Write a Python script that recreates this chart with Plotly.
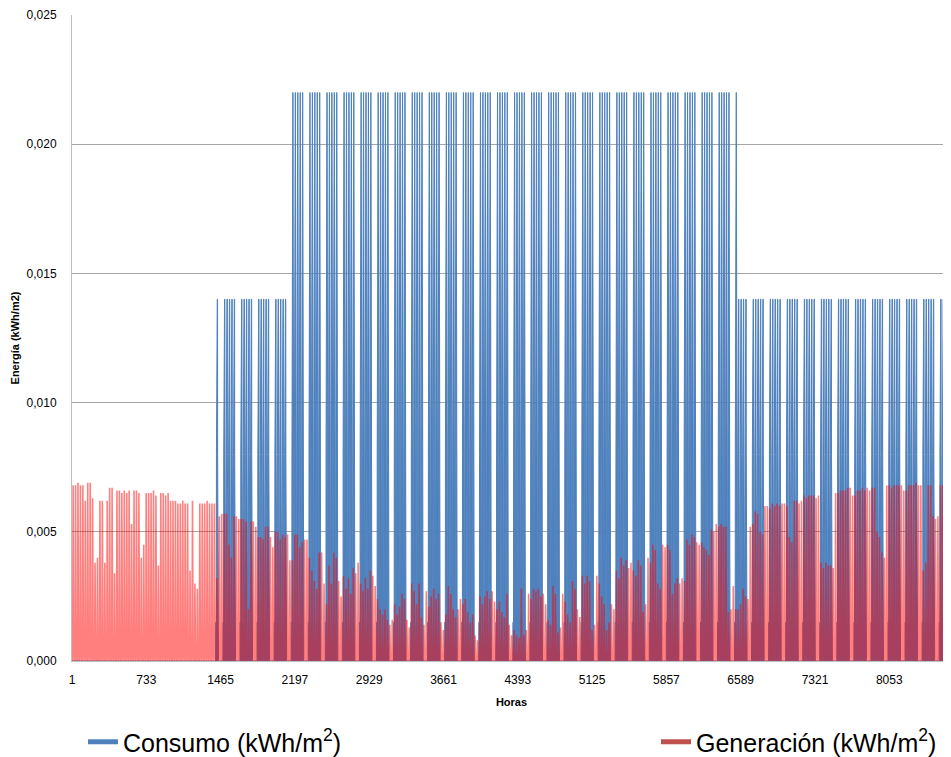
import plotly.graph_objects as go

# ---------------- data (year 2013, hourly, 8760 h) ----------------
DAYS_IN_MONTH = [31, 28, 31, 30, 31, 30, 31, 31, 30, 31, 30, 31]
FIRST_WEEKDAY = 1  # 2013-01-01 was a Tuesday (0 = Monday)

# Daily generation peak per month, in 1e-4 kWh/m2
GEN_JAN = [68, 68, 69, 68, 68, 62, 69, 69, 63, 38, 40, 62, 62, 38, 62, 67, 67, 34, 66, 66, 65, 66, 65, 66, 53, 66, 66, 65, 40, 45, 65]
GEN_FEB = [65, 65, 66, 64, 37, 65, 65, 64, 65, 62, 62, 62, 61, 61, 62, 61, 61, 35, 62, 30, 28, 61, 61, 61, 62, 61, 61, 61]
GEN_MAR = [32, 56, 57, 57, 57, 45, 40, 56, 56, 55, 55, 55, 54, 20, 54, 54, 52, 48, 48, 47, 52, 52, 48, 44, 50, 50, 47, 49, 48, 49, 39]
GEN_APR = [39, 49, 49, 44, 46, 47, 47, 40, 35, 31, 28, 42, 42, 30, 22, 37, 30, 42, 40, 31, 25, 33, 28, 32, 26, 36, 34, 38, 30, 27]
GEN_MAY = [32, 28, 35, 33, 29, 24, 20, 18, 20, 16, 14, 16, 22, 18, 21, 26, 24, 16, 13, 30, 27, 22, 30, 17, 14, 27, 21, 25, 28, 24, 26]
GEN_JUN = [15, 12, 18, 29, 26, 20, 17, 20, 24, 22, 24, 19, 15, 18, 10, 8, 25, 22, 25, 27, 24, 27, 23, 20, 23, 19, 17, 26, 14, 10]
GEN_JUL = [12, 10, 9, 28, 10, 12, 26, 24, 28, 27, 28, 25, 26, 22, 16, 14, 29, 26, 11, 13, 26, 23, 18, 15, 31, 28, 20, 17, 33, 30, 33]
GEN_AUG = [31, 12, 14, 33, 30, 25, 22, 12, 15, 22, 20, 35, 32, 40, 37, 39, 36, 38, 35, 33, 39, 37, 19, 22, 40, 38, 45, 43, 30, 28, 45]
GEN_SEP = [44, 45, 43, 26, 30, 32, 30, 32, 31, 47, 45, 49, 48, 46, 45, 46, 44, 43, 41, 51, 50, 53, 52, 53, 52, 52, 19, 20, 29, 20]
GEN_OCT = [20, 22, 28, 25, 24, 52, 53, 58, 57, 50, 49, 60, 60, 59, 61, 60, 61, 60, 61, 61, 60, 48, 46, 62, 62, 61, 62, 64, 63, 64, 64]
GEN_NOV = [64, 63, 64, 38, 36, 38, 37, 37, 36, 65, 65, 66, 66, 66, 67, 67, 64, 64, 66, 66, 67, 66, 67, 66, 67, 67, 50, 48, 42, 40]
GEN_DEC = [68, 68, 67, 68, 68, 68, 68, 66, 66, 68, 68, 68, 69, 68, 68, 35, 38, 68, 68, 56, 55, 56, 68, 68, 69, 68, 68, 68, 69, 68, 68]
GEN_MONTHS = [GEN_JAN, GEN_FEB, GEN_MAR, GEN_APR, GEN_MAY, GEN_JUN,
              GEN_JUL, GEN_AUG, GEN_SEP, GEN_OCT, GEN_NOV, GEN_DEC]

# Relative hourly shape of the solar generation within a day
SOLAR_SHAPE = [0, 0, 0, 0, 0, 0, 0, 0.08, 0.35, 0.65, 0.88, 1.0,
               0.97, 0.85, 0.62, 0.35, 0.10, 0, 0, 0, 0, 0, 0, 0]

# Hourly consumption profiles on working days (kWh/m2)
CONS_SUMMER = [0.0015] * 7 + [0.008, 0.014] + [0.022] * 9 + [0.014, 0.008] + [0.0015] * 4
CONS_WINTER = [0.0015] * 7 + [0.008] + [0.014] * 11 + [0.008] + [0.0015] * 4
CONS_OFF = [0.0] * 24
CONS_BY_MONTH = [CONS_OFF, CONS_OFF, CONS_WINTER, CONS_SUMMER, CONS_SUMMER, CONS_SUMMER,
                 CONS_SUMMER, CONS_SUMMER, CONS_SUMMER, CONS_WINTER, CONS_WINTER, CONS_WINTER]

X_TICKS = [1, 733, 1465, 2197, 2929, 3661, 4393, 5125, 5857, 6589, 7321, 8053]
Y_TICKS = [0, 0.005, 0.010, 0.015, 0.020, 0.025]

# ---------------- build hourly series ----------------
hours, consumo, generacion = [], [], []
day = 0
for m, ndays in enumerate(DAYS_IN_MONTH):
    for dm in range(ndays):
        weekday = (day + FIRST_WEEKDAY) % 7
        peak = GEN_MONTHS[m][dm] * 1e-4
        prof = CONS_BY_MONTH[m]
        for h in range(24):
            hours.append(day * 24 + h + 1)
            generacion.append(peak * SOLAR_SHAPE[h])
            consumo.append(prof[h] if weekday < 5 else 0.0)
        day += 1

BASE = "Liberation Sans, Arial, sans-serif"

fig = go.Figure()
fig.add_trace(go.Scatter(x=hours, y=consumo, mode="lines", showlegend=False,
                         fill="tozeroy", fillcolor="#4F81BD",
                         line=dict(color="#4F81BD", width=1.0), hoverinfo="skip"))
fig.add_trace(go.Scatter(x=hours, y=generacion, mode="lines", showlegend=False,
                         line=dict(color="rgba(255,0,0,0.5)", width=1.6), hoverinfo="skip"))
# legend entries
fig.add_trace(go.Scatter(x=[None], y=[None], mode="lines", name="Consumo (kWh/m<sup>2</sup>)",
                         line=dict(color="#4F81BD", width=5), legend="legend"))
fig.add_trace(go.Scatter(x=[None], y=[None], mode="lines", name="Generación (kWh/m<sup>2</sup>)",
                         line=dict(color="#C0504D", width=5), legend="legend2"))

leg_common = dict(orientation="h", yanchor="top", y=-0.0898,
                  font=dict(family=BASE, size=25, color="#000000"),
                  itemwidth=30, bgcolor="rgba(0,0,0,0)")

fig.update_layout(
    width=943, height=749,
    margin=dict(l=64, r=0, t=7, b=96, autoexpand=False),
    paper_bgcolor="white", plot_bgcolor="white",
    separators=",.",
    font=dict(family=BASE, color="#000000"),
    xaxis=dict(range=[1, 8661], tickmode="array", tickvals=X_TICKS, automargin=False,
               ticktext=[str(v) for v in X_TICKS], showgrid=False, zeroline=False,
               showline=True, linecolor="#BFBFBF", linewidth=1,
               tickfont=dict(size=12, color="#000000"), ticklabelstandoff=8,
               title=dict(text="<b>Horas</b>", font=dict(family=BASE, size=11), standoff=11)),
    yaxis=dict(range=[0, 0.025], tickmode="array", tickvals=Y_TICKS, tickformat=".3f",
               automargin=False,
               showgrid=True, gridcolor="#A6A6A6", gridwidth=1, zeroline=False,
               showline=True, linecolor="#BFBFBF", linewidth=1,
               tickfont=dict(size=12, color="#000000"), ticklabelstandoff=12,
               title=dict(text="<b>Energía (kWh/m2)</b>", font=dict(family=BASE, size=11), standoff=4)),
    legend=dict(x=0.0125, xanchor="left", **leg_common),
    legend2=dict(x=0.6644, xanchor="left", **leg_common),
)

fig.write_html("out.html")
